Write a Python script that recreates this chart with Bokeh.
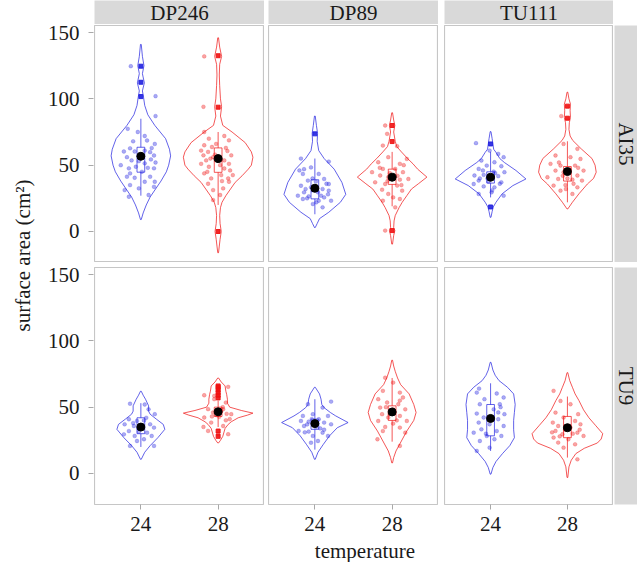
import math
from bokeh.plotting import figure
from bokeh.layouts import row, column
from bokeh.models import Range1d, FixedTicker, Spacer
from bokeh.core.properties import value
from bokeh.embed import file_html
from bokeh.resources import INLINE

# ---------------- data ----------------
rows = ["AI35", "TU9"]
cols = ["DP246", "DP89", "TU111"]
temps = ["24", "28"]
y_ticks = [0, 50, 100, 150]
y_label = "surface area (cm\u00b2)"
x_label = "temperature"

# group order: AI35/DP246/24, AI35/DP246/28, AI35/DP89/24, ... TU9/TU111/28
box_lo = [27, 20, 13, 19, 25.7, 22, 20, 35, 18, 24, 17, 12]
box_q1 = [44.7, 44.6, 24.6, 35.5, 36.5, 38, 30, 43, 33.3, 40, 28.4, 27]
box_med = [55, 53, 30, 41, 40, 44, 35, 46, 37, 45, 40, 36]
box_q3 = [63.5, 63, 39, 47, 45, 49, 42, 50, 41, 51, 52, 43]
box_hi = [85, 75, 55, 60, 60, 68, 53, 55, 56, 72, 68, 58]
means = [56.7, 55, 32.6, 40.9, 40.9, 45.2, 35, 46.5, 37.6, 46.4, 41.5, 34.5]
outliers = [
    [101.7, 112.5, 124.6], [0, 93.7, 132.5], [73.6], [0.7, 67.8, 79.9],
    [18.5, 66], [85.4, 94.5], [], [57, 59, 61, 63, 65, 66, 32, 28],
    [], [], [], [],
]

# violin outlines: levels (value) and half widths (x units)
violin_v = [
    [141, 132, 125, 119, 112, 106, 101, 95, 88, 80, 70, 62, 57, 50, 45, 38, 32, 26, 20, 14, 9],
    [146, 139, 132, 126, 118, 110, 100, 94, 87, 80, 75, 67, 60, 56, 50, 47, 42, 37, 32, 27, 22, 18, 12, 6, 0, -6, -11, -16],
    [87, 80, 74, 68, 61, 55, 47, 37, 28, 22, 14.5, 9.7, 6, 3],
    [89.5, 84, 80, 75, 68, 64, 60, 55, 51, 47, 41, 36, 32, 27, 22, 18, 12, 8, 3, 0.7, -3, -9.5],
    [75.3, 70, 66, 62, 59.7, 55, 52, 46, 39.6, 34.6, 28.4, 22, 18.5, 15, 10.7],
    [105, 100, 96, 91, 86, 82, 77, 72, 68.6, 62.3, 55, 50, 44.7, 40, 35.8, 28.4, 22, 17],
    [62, 59, 56, 51, 47, 44.7, 41, 37, 33.3, 27, 21, 16, 10.7],
    [72, 69, 66, 62, 59.7, 56, 53, 50, 47.5, 45.5, 44, 42, 39, 37, 34, 32, 28, 25, 23],
    [65, 60, 56, 52, 49.6, 46, 43.4, 38.4, 34.5, 28.4, 22, 16, 10.7],
    [85.4, 81, 77, 72, 67, 60, 52, 46, 40, 32, 24.5, 17, 12, 8],
    [83.8, 78, 74, 70, 65, 60, 52, 46, 40, 33, 27, 21, 15, 9, 4.5, -0.5],
    [76, 70, 65, 60, 55, 48, 42, 36, 30, 26, 23, 19, 15, 10, 5, -3],
]
violin_w = [
    [0.005, 0.02, 0.04, 0.02, 0.045, 0.02, 0.035, 0.05, 0.09, 0.18, 0.32, 0.37, 0.385, 0.36, 0.33, 0.26, 0.19, 0.12, 0.07, 0.03, 0.005],
    [0.005, 0.02, 0.045, 0.02, 0.015, 0.02, 0.03, 0.045, 0.03, 0.06, 0.18, 0.35, 0.43, 0.45, 0.43, 0.39, 0.31, 0.22, 0.16, 0.1, 0.05, 0.03, 0.02, 0.025, 0.04, 0.025, 0.015, 0.005],
    [0.005, 0.02, 0.035, 0.03, 0.05, 0.12, 0.25, 0.35, 0.40, 0.33, 0.18, 0.06, 0.03, 0.005],
    [0.005, 0.02, 0.035, 0.02, 0.04, 0.06, 0.12, 0.2, 0.27, 0.33, 0.45, 0.34, 0.25, 0.19, 0.13, 0.09, 0.04, 0.025, 0.02, 0.035, 0.02, 0.005],
    [0.005, 0.02, 0.03, 0.04, 0.07, 0.12, 0.18, 0.33, 0.46, 0.29, 0.15, 0.07, 0.035, 0.02, 0.005],
    [0.005, 0.02, 0.04, 0.035, 0.04, 0.025, 0.02, 0.035, 0.07, 0.18, 0.32, 0.36, 0.375, 0.34, 0.26, 0.15, 0.065, 0.005],
    [0.005, 0.03, 0.06, 0.1, 0.1, 0.12, 0.2, 0.29, 0.31, 0.22, 0.12, 0.05, 0.005],
    [0.005, 0.04, 0.09, 0.1, 0.11, 0.12, 0.12, 0.15, 0.3, 0.45, 0.38, 0.26, 0.17, 0.13, 0.09, 0.08, 0.06, 0.03, 0.005],
    [0.005, 0.06, 0.08, 0.09, 0.12, 0.2, 0.27, 0.43, 0.29, 0.19, 0.11, 0.04, 0.005],
    [0.005, 0.02, 0.04, 0.07, 0.11, 0.22, 0.28, 0.31, 0.28, 0.19, 0.12, 0.05, 0.02, 0.005],
    [0.005, 0.03, 0.06, 0.11, 0.22, 0.3, 0.32, 0.31, 0.3, 0.3, 0.31, 0.25, 0.155, 0.07, 0.03, 0.005],
    [0.005, 0.03, 0.065, 0.1, 0.15, 0.21, 0.28, 0.37, 0.46, 0.44, 0.39, 0.22, 0.11, 0.05, 0.02, 0.005],
]

# individual observations: value and horizontal jitter (x units)
pts_v = [
    [124.6, 102, 87, 77.4, 75, 72, 68.6, 68, 66, 62.9, 62.7, 60.3, 60.3, 61, 59.8, 57.3, 56, 53.6, 54.3, 53, 51.4, 52, 50, 47.6, 48.8, 48, 47.6, 43.8, 45, 41.3, 40.5, 41.3, 37.5, 35, 37.5, 32.5, 33.7, 31.2, 26.2, 27.5],
    [132, 94, 75, 72, 70, 68.7, 65, 63.7, 61, 60, 60.7, 57.4, 56, 57.4, 53.6, 53.6, 51, 51, 48.8, 47.5, 43.8, 42.5, 42.5, 40, 40, 36, 37.5, 32.5, 31.2, 27.5, 23.7, 58, 50, 45, 63, 66, 46, 55, 38],
    [55, 52.7, 47, 48.3, 43.4, 43.4, 39.6, 38.4, 37.6, 35.8, 34.5, 33.3, 32, 29.5, 29.5, 30.8, 27, 26.5, 25.7, 24.5, 23.2, 23.2, 20.7, 18.2, 28, 32, 46, 27, 25, 36, 40, 22],
    [79.9, 73.6, 64.8, 64.3, 56, 54.7, 52.2, 51, 47.2, 47.2, 44.7, 44.7, 42.2, 40.9, 39.1, 39.6, 37.1, 35.8, 34.6, 31.5, 30.8, 28.3, 25.7, 23.2, 24.5, 0.7, 18.2, 50, 44, 42, 48, 35, 38],
    [66.6, 61, 58.5, 56, 53.5, 52.2, 49.7, 49.2, 47.2, 45.2, 44.7, 42.2, 42.7, 41.7, 38.4, 37.6, 37.1, 35.8, 34, 33.3, 28.3, 29.5, 27, 44, 40, 36, 46, 31, 40],
    [87, 66, 62.3, 57.3, 56, 54.7, 51, 49.7, 49.7, 45.9, 45.9, 44.7, 42.2, 40.9, 39.6, 39.1, 38.4, 34.6, 35, 33.3, 30.8, 28.3, 47, 42, 36, 52, 40, 48, 32],
    [52.6, 52, 48.4, 44.7, 40.9, 39.6, 40, 37.1, 35.8, 37.1, 34.6, 32, 31.5, 30.8, 29.5, 28.3, 28.3, 25.8, 20.8, 20.8, 24.5, 36, 34, 42, 38],
    [65.3, 59, 56, 53.5, 48.5, 48.5, 46, 44.7, 42.2, 42.7, 40.1, 38.4, 35.1, 35.8, 32.1, 29.6, 29.6, 58.5, 63.5, 47, 44, 45, 43, 50, 41],
    [54.2, 52.2, 49.7, 44.7, 43.4, 43.4, 40.9, 39.6, 39.1, 38.4, 37.1, 35.8, 35.1, 32.1, 31.6, 30.8, 28.3, 28.3, 24.5, 23.2, 37, 41, 34, 37, 33, 31],
    [72.2, 68.5, 62.3, 61, 56, 57.3, 53.5, 52.2, 49.7, 48.4, 48.4, 44.7, 43.4, 42.2, 39.6, 39.6, 37.6, 35.1, 34.6, 30.8, 25.8, 20.8, 46, 45, 40, 50, 55, 32],
    [61, 60.3, 57.3, 56, 52.2, 52.2, 48.4, 45.2, 44.7, 42.2, 40.9, 38.4, 37.1, 35.8, 33.3, 32, 30.8, 28.3, 25.8, 24.5, 28.3, 19.5, 17, 64, 46, 30, 50],
    [62.3, 54.7, 52.2, 45.9, 44.7, 42.2, 39.6, 38.4, 35.8, 37.1, 34.6, 32.1, 30.8, 29.6, 28.3, 27.1, 25.8, 23.3, 22, 19.5, 10.7, 36, 33, 30, 28, 33, 31],
]
pts_jit = [
    [-0.13, 0.19, 0.19, -0.17, -0.04, 0.05, 0.08, -0.10, 0.18, 0.14, -0.14, -0.22, -0.08, 0.05, 0.12, 0.17, -0.18, -0.12, 0.13, -0.026, 0.05, 0.19, -0.26, -0.155, -0.065, 0.09, 0.17, -0.14, 0.013, -0.18, -0.08, 0.12, 0.05, -0.14, 0.18, -0.026, 0.17, -0.21, -0.155, 0.10],
    [-0.18, -0.19, -0.18, 0.08, -0.12, 0.14, -0.18, -0.08, -0.22, -0.13, 0.12, -0.19, -0.065, 0.17, 0.08, -0.155, -0.22, 0.14, -0.12, 0.08, -0.18, 0.04, 0.19, -0.09, 0.13, -0.13, 0.14, 0.065, -0.065, 0.026, -0.065, -0.04, 0.026, -0.14, 0.10, -0.026, 0.155, -0.10, 0.05],
    [-0.18, 0.18, -0.14, -0.05, -0.155, 0.05, 0.12, -0.09, 0.013, 0.18, -0.18, -0.05, 0.10, -0.14, 0.04, 0.18, -0.22, -0.08, 0.12, -0.155, 0.05, 0.21, -0.026, 0.10, 0.17, -0.12, -0.2, 0.08, -0.1, 0.15, -0.03, 0.02],
    [-0.09, -0.065, -0.12, 0.065, -0.05, 0.19, -0.18, 0.10, -0.12, 0.04, -0.26, 0.14, -0.155, -0.05, 0.10, 0.21, -0.22, -0.09, 0.065, -0.13, 0.13, -0.05, 0.013, -0.12, 0.10, -0.09, 0.04, 0.15, -0.03, 0.07, -0.16, 0.12, -0.06],
    [-0.19, -0.013, 0.10, 0.17, -0.12, 0.05, -0.05, 0.14, -0.155, 0.04, 0.18, -0.21, -0.09, 0.10, -0.155, -0.026, 0.14, -0.22, -0.09, 0.05, -0.155, 0.013, 0.17, 0.06, -0.04, 0.12, -0.1, 0.02, -0.14],
    [-0.08, -0.05, 0.13, -0.155, 0.04, 0.17, -0.22, -0.09, 0.10, 0.21, -0.155, -0.05, 0.13, -0.26, -0.12, 0.065, 0.19, -0.18, -0.026, 0.13, -0.09, 0.065, 0.03, -0.06, 0.08, -0.11, 0.0, 0.14, -0.02],
    [-0.14, 0.05, 0.10, 0.18, -0.155, -0.05, 0.04, -0.21, -0.09, 0.12, 0.17, -0.155, -0.026, 0.08, -0.22, -0.08, 0.14, 0.04, -0.14, 0.17, -0.05, 0.02, -0.03, 0.07, -0.1],
    [0.13, -0.18, -0.05, 0.10, -0.13, 0.065, -0.065, 0.17, -0.18, 0.013, 0.10, -0.09, -0.19, 0.065, -0.13, 0.13, 0.0, -0.05, 0.0, 0.04, -0.02, 0.11, -0.08, 0.06, 0.15],
    [0.21, -0.09, 0.10, -0.026, -0.155, 0.17, 0.05, -0.18, -0.08, 0.12, 0.21, -0.14, 0.013, -0.21, -0.08, 0.10, -0.026, 0.17, 0.04, -0.05, 0.03, -0.04, 0.07, -0.1, 0.12, -0.13],
    [-0.09, 0.013, -0.12, 0.10, -0.18, 0.14, -0.065, 0.08, -0.155, 0.013, 0.17, -0.13, 0.10, -0.05, -0.18, 0.19, 0.013, -0.09, 0.10, 0.17, -0.19, 0.10, 0.03, -0.03, 0.06, -0.08, 0.1, -0.12],
    [-0.18, 0.08, 0.17, -0.08, -0.14, 0.12, 0.04, -0.18, 0.18, -0.09, 0.10, -0.155, -0.013, 0.17, -0.12, 0.08, -0.22, -0.05, 0.05, -0.14, 0.14, -0.013, -0.18, -0.15, 0.1, -0.06, 0.13],
    [-0.18, -0.09, 0.04, -0.155, 0.14, -0.05, 0.10, -0.19, -0.12, 0.17, 0.04, -0.155, 0.13, -0.065, 0.21, -0.18, 0.013, -0.12, 0.10, -0.05, 0.13, 0.02, -0.03, 0.07, -0.1, 0.16, -0.2],
]

# ---------------- style ----------------
FONT = "Liberation Serif"
FS = "21px"
COLORS = ["#2020e0", "#f01010"]
STRIP = "#d9d9d9"
BORDER = "#c6c6c6"
PWS = [170, 170, 169]       # panel frame widths
GAPS = [4, 6]               # gaps between panels
PH = 237
LEFT, BOTTOM = 49, 34
YLAB_W = 44
STRIP_H = 24
RSTRIP_W = 23
ROW_GAP = 5
Y_RANGE = (-23.37, 155.28)


def style_axis(ax, standoff):
    ax.axis_line_color = None
    ax.major_tick_line_color = "#a8a8a8"
    ax.major_tick_in = 0
    ax.major_tick_out = 5
    ax.minor_tick_line_color = None
    ax.major_label_text_font = FONT
    ax.major_label_text_font_size = FS
    ax.major_label_text_color = "#1a1a1a"
    ax.major_label_standoff = standoff


def make_panel(ri, ci):
    bottom = ri == 1
    p = figure(
        title=None, frame_width=PWS[ci], frame_height=PH,
        x_range=Range1d(0.4, 2.6), y_range=Range1d(*Y_RANGE),
        x_axis_location="below" if bottom else None, y_axis_location=None,
        output_backend="svg", toolbar_location=None, min_border=0,
        min_border_bottom=BOTTOM if bottom else 0,
        background_fill_color="white", border_fill_color="white",
    )
    p.outline_line_color = BORDER
    p.outline_line_width = 1.2
    for g in p.grid:
        g.visible = False
    for ax in p.axis:
        style_axis(ax, 7)
    if bottom:
        p.xaxis.ticker = FixedTicker(ticks=[1, 2])
        p.xaxis.major_label_overrides = {1: temps[0], 2: temps[1]}

    for ti in range(2):
        g = ri * 6 + ci * 2 + ti
        c = ti + 1
        col = COLORS[ti]
        vv, vw = violin_v[g], violin_w[g]
        xs = [c + w for w in vw] + [c - w for w in reversed(vw)]
        ys = list(vv) + list(reversed(vv))
        p.patch(xs, ys, fill_alpha=0, line_color=col, line_alpha=0.7, line_width=1.0)
        p.scatter([c + j for j in pts_jit[g]], pts_v[g], size=3.8, fill_color=col,
                  fill_alpha=0.38, line_color=col, line_alpha=0.2)
        p.segment(x0=[c, c], y0=[box_q3[g], box_q1[g]], x1=[c, c], y1=[box_hi[g], box_lo[g]],
                  line_color=col, line_alpha=0.7, line_width=1.0)
        p.quad(left=[c - 0.05], right=[c + 0.05], bottom=[box_q1[g]], top=[box_q3[g]],
               fill_alpha=0, line_color=col, line_alpha=0.7, line_width=1)
        p.segment(x0=[c - 0.05], y0=[box_med[g]], x1=[c + 0.05], y1=[box_med[g]],
                  line_color=col, line_alpha=0.7, line_width=1)
        if outliers[g]:
            p.scatter([c] * len(outliers[g]), outliers[g], marker="square", size=4,
                      fill_color=col, line_color=col, alpha=0.9)
        p.scatter([c], [means[g]], size=8, fill_color="black", line_color="black")
    return p


def y_axis_fig(top_pad, bottom_pad):
    a = figure(title=None, frame_width=1, frame_height=PH,
               x_range=Range1d(0, 1), y_range=Range1d(*Y_RANGE),
               x_axis_location=None, y_axis_location="left",
               output_backend="svg", toolbar_location=None, min_border=0,
               min_border_left=LEFT - 1, min_border_top=top_pad,
               min_border_bottom=bottom_pad,
               background_fill_color="white", border_fill_color="white")
    a.outline_line_color = None
    for g in a.grid:
        g.visible = False
    style_axis(a.yaxis[0], 9)
    a.yaxis.ticker = FixedTicker(ticks=y_ticks)
    return a


def text_fig(text, w, h, angle=0.0, fill="white", bottom_pad=0):
    s = figure(title=None, frame_width=w, frame_height=h,
               x_range=Range1d(0, 1), y_range=Range1d(0, 1),
               x_axis_location=None, y_axis_location=None,
               output_backend="svg", toolbar_location=None, min_border=0,
               min_border_bottom=bottom_pad,
               background_fill_color=fill, border_fill_color="white")
    s.outline_line_color = None
    for g in s.grid:
        g.visible = False
    s.text(x=[0.5], y=[0.5], text=[text], angle=angle, text_align="center",
           text_baseline="middle", text_font=value(FONT), text_font_size=FS,
           text_color="#1a1a1a")
    return s


# top strips
top_items = []
for ci, cname in enumerate(cols):
    if ci:
        top_items.append(Spacer(width=GAPS[ci - 1], height=STRIP_H))
    top_items.append(text_fig(cname, PWS[ci], STRIP_H, fill=STRIP))

panel_rows = []
for ri, rname in enumerate(rows):
    items = []
    for ci in range(3):
        if ci:
            items.append(Spacer(width=GAPS[ci - 1], height=PH))
        items.append(make_panel(ri, ci))
    items.append(Spacer(width=1, height=PH))
    items.append(text_fig(rname, RSTRIP_W, PH, angle=-math.pi / 2, fill=STRIP,
                          bottom_pad=BOTTOM if ri == 1 else 0))
    panel_rows.append(row(*items))

panels_block = column(
    row(*top_items),
    Spacer(height=1, width=10),
    panel_rows[0],
    Spacer(height=ROW_GAP, width=10),
    panel_rows[1],
)
yaxis_col = column(y_axis_fig(STRIP_H + 1, 0), y_axis_fig(ROW_GAP, BOTTOM))
ylab_col = column(Spacer(height=6, width=YLAB_W),
                  text_fig(y_label, YLAB_W, STRIP_H + 1 + 2 * PH + ROW_GAP - 6,
                           angle=math.pi / 2))
xlab = text_fig(x_label, sum(PWS) + sum(GAPS) + 1 + RSTRIP_W, 24)

root = column(
    row(ylab_col, yaxis_col, panels_block),
    row(Spacer(width=YLAB_W + LEFT, height=24), xlab),
)

open("out.html", "w").write(file_html(root, INLINE))
